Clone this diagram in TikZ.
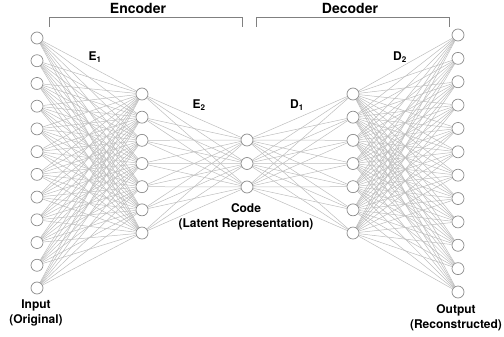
\documentclass[tikz,border=0pt]{standalone}
\usepackage{fontspec}
\setmainfont{TeX Gyre Heros}
\usetikzlibrary{backgrounds}
\begin{document}
\begin{tikzpicture}[x=1pt,y=-1pt,
  neuron/.style={circle,draw=black!45,fill=white,line width=0.7pt,minimum size=12pt,inner sep=0pt},
  link/.style={draw=black!26,line width=0.5pt},
  bracket/.style={draw=black!50,line width=0.6pt},
  title/.style={font=\fontsize{14}{16}\selectfont\bfseries,inner sep=0pt},
  lbl/.style={font=\fontsize{12}{15}\selectfont\bfseries,align=center,inner sep=0pt}]
\useasboundingbox (0,0) rectangle (504,337);
\foreach \k in {1,...,12} {
  \node[neuron] (i\k) at (37,{38+(\k-1)*22.727}) {};
  \node[neuron] (o\k) at (458,{35+(\k-1)*23.364}) {};
}
\foreach \k in {1,...,7} {
  \node[neuron] (e\k) at (142,{94+(\k-1)*23.17}) {};
  \node[neuron] (d\k) at (353,{94+(\k-1)*23.17}) {};
}
\foreach \k in {1,2,3} {
  \node[neuron] (c\k) at (247,{140+(\k-1)*23.5}) {};
}
\begin{scope}[on background layer]
\foreach \a in {1,...,12} \foreach \b in {1,...,7} {
  \draw[link] (i\a) -- (e\b);
  \draw[link] (d\b) -- (o\a);
}
\foreach \a in {1,...,7} \foreach \b in {1,2,3} {
  \draw[link] (e\a) -- (c\b);
  \draw[link] (c\b) -- (d\a);
}
\end{scope}
\draw[bracket] (49,27) -- (49,17) -- (242,17) -- (242,27);
\draw[bracket] (256,27) -- (256,17) -- (449,17) -- (449,27);
\node[title] (enc) at (138,8) {Encoder};
\node[title] (dec) at (350,8) {Decoder};
\node[lbl] (le1) at (95,57) {E\textsubscript{1}};
\node[lbl] (le2) at (199,105) {E\textsubscript{2}};
\node[lbl] (ld1) at (297,105) {D\textsubscript{1}};
\node[lbl] (ld2) at (400,57) {D\textsubscript{2}};
\node[lbl] (code) at (246,217) {Code\\(Latent Representation)};
\node[lbl] (inlab) at (36,313) {Input\\(Original)};
\node[lbl] (outlab) at (456,318) {Output\\(Reconstructed)};
\end{tikzpicture}
\end{document}
